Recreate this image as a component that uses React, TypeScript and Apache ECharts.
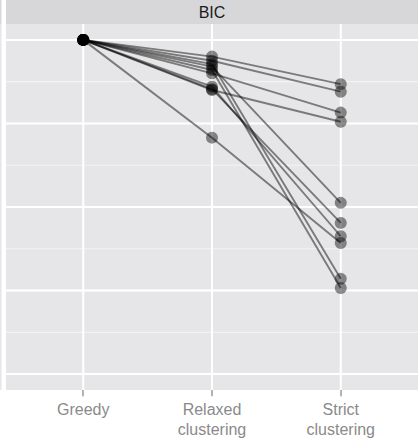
import React, { useEffect, useRef } from "react";
import * as echarts from "echarts";

// Methods on the x axis, in plotting order
const methods = ["Greedy", "Relaxed\nclustering", "Strict\nclustering"];

// BIC change relative to the greedy solution, one entry per run
const greedyBIC = [0, 0, 0, 0, 0, 0, 0, 0, 0, 0];
const relaxedBIC = [-0.2, -0.25, -0.29, -0.32, -0.36, -0.4, -0.56, -0.59, -0.6, -1.17];
const strictBIC = [-0.53, -0.62, -2.86, -1.95, -2.97, -0.87, -2.35, -2.19, -0.98, -2.43];

// Grid positions (major and minor) on the value axis
const majorY = [0, -1, -2, -3, -4];
const minorY = [-0.5, -1.5, -2.5, -3.5];
const methodX = [1, 2, 3];

const X_MIN = 0.4;
const X_MAX = 3.6;
const Y_MIN = -4.19;
const Y_MAX = 0.19;

const PANEL = { left: 6, right: 0, top: 24, bottom: 48 };
const WIDTH = 418;

const FONT = "'Liberation Sans', Arial, Helvetica, sans-serif";

function gridLine(data: number[][], color: string, width: number) {
  return {
    type: "line",
    z: 1,
    data,
    symbol: "none",
    silent: true,
    clip: false,
    lineStyle: { color, width },
  };
}

export default function App() {
  const ref = useRef<HTMLDivElement>(null);

  useEffect(() => {
    if (!ref.current) return;
    const chart = echarts.init(ref.current, undefined, { renderer: "svg" });

    // pixel position of a method on the panel's x scale
    const panelW = WIDTH - PANEL.left - PANEL.right;
    const px = (v: number) =>
      PANEL.left + ((v - X_MIN) / (X_MAX - X_MIN)) * panelW;

    const runSeries = greedyBIC.map((g, i) => ({
      type: "line",
      z: 3,
      data: [
        [1, g],
        [2, relaxedBIC[i]],
        [3, strictBIC[i]],
      ],
      symbol: "circle",
      symbolSize: 12,
      silent: true,
      lineStyle: { color: "rgba(0,0,0,0.47)", width: 1.9 },
      itemStyle: { color: "rgba(0,0,0,0.44)" },
    }));

    const gridSeries = [
      ...minorY.map((v) =>
        gridLine([[X_MIN, v], [X_MAX, v]], "#f3f3f4", 1.1)
      ),
      ...majorY.map((v) => gridLine([[X_MIN, v], [X_MAX, v]], "#ffffff", 2)),
      ...methodX.map((v) => gridLine([[v, Y_MIN], [v, Y_MAX]], "#ffffff", 2)),
    ];

    chart.setOption({
      animation: false,
      backgroundColor: "#ffffff",
      grid: [
        {
          ...PANEL,
          show: true,
          backgroundColor: "#e6e6e8",
          borderWidth: 0,
        },
        // thin band along the panel's bottom edge carrying ticks and labels
        {
          left: px(1),
          right: WIDTH - px(3),
          top: 438 - PANEL.bottom - 1,
          bottom: PANEL.bottom,
          show: false,
        },
      ],
      graphic: [
        {
          type: "rect",
          shape: { x: 6, y: 0, width: 412, height: 24 },
          style: { fill: "#d7d7d9" },
        },
        {
          type: "rect",
          shape: { x: 0, y: 0, width: 1.5, height: 24 },
          style: { fill: "#d7d7d9" },
        },
        {
          type: "rect",
          shape: { x: 0, y: 24, width: 1.5, height: 366 },
          style: { fill: "#e6e6e8" },
        },
        {
          type: "text",
          x: 212,
          y: 12,
          style: {
            text: "BIC",
            fill: "#1a1a1a",
            font: `16px ${FONT}`,
            align: "center",
            verticalAlign: "middle",
          },
        },
      ],
      xAxis: [
        {
          type: "value",
          gridIndex: 0,
          min: X_MIN,
          max: X_MAX,
          axisLine: { show: false },
          axisTick: { show: false },
          axisLabel: { show: false },
          splitLine: { show: false },
        },
        {
          type: "category",
          gridIndex: 1,
          data: methods,
          boundaryGap: false,
          position: "bottom",
          axisLine: { show: false },
          splitLine: { show: false },
          axisTick: {
            show: true,
            length: 7,
            lineStyle: { color: "#9a9a9a", width: 1.5 },
          },
          axisLabel: {
            show: true,
            interval: 0,
            margin: 10,
            color: "#8a8a8a",
            fontFamily: FONT,
            fontSize: 16,
            lineHeight: 20,
          },
        },
      ],
      yAxis: [
        {
          type: "value",
          gridIndex: 0,
          min: Y_MIN,
          max: Y_MAX,
          axisLine: { show: false },
          axisTick: { show: false },
          axisLabel: { show: false },
          splitLine: { show: false },
        },
        {
          type: "value",
          gridIndex: 1,
          show: false,
        },
      ],
      series: [...gridSeries, ...runSeries],
    });

    return () => chart.dispose();
  }, []);

  return (
    <div
      ref={ref}
      style={{ position: "fixed", left: 0, top: 0, width: 418, height: 438 }}
    />
  );
}
